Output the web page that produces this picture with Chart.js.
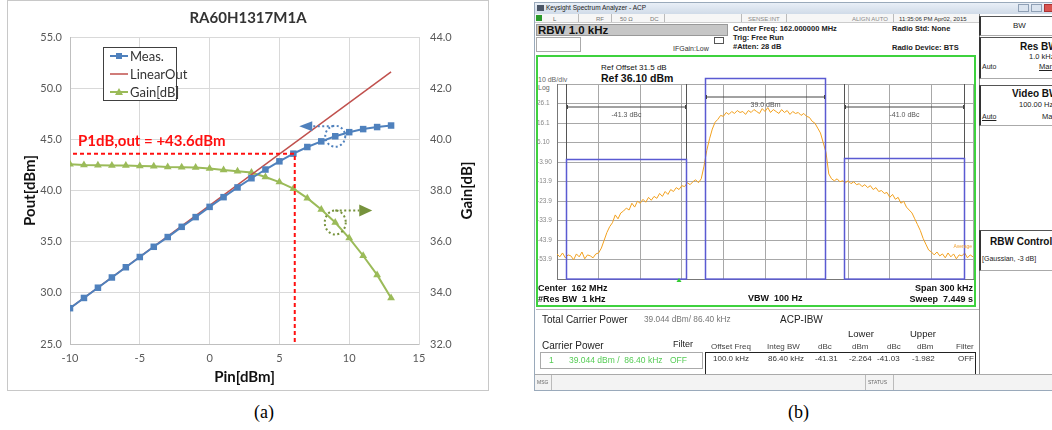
<!DOCTYPE html>
<html>
<head>
<meta charset="utf-8">
<script src="https://cdn.jsdelivr.net/npm/chart.js@4.4.1/dist/chart.umd.min.js"></script>
<style>
  body { margin: 0; background: #fff; width: 1052px; height: 430px; overflow: hidden; position: relative;
         font-family: "Liberation Sans", Arial, sans-serif; }
  .t { position: absolute; white-space: nowrap; line-height: 1; }
  .b { font-weight: bold; }
  .box { position: absolute; box-sizing: border-box; }
  #panelA { position: absolute; left: 7px; top: 0; width: 480px; height: 389px; border: 1px solid #c8c8c8; }
  #traceWrap { position: absolute; left: 537px; top: 74px; width: 437px; height: 211px; }
  .cap { position: absolute; top: 402px; font-family: "Liberation Serif", serif; font-size: 18px; }
  .side { position: absolute; left: 979px; width: 80px; box-sizing: border-box; background: #fff;
          border-left: 2px solid #333; border-top: 1px solid #555; border-bottom: 1px solid #aaa; }
</style>
</head>
<body>

<div id="panelA"><canvas id="paChart"></canvas></div>
<div class="cap" style="left:254px">(a)</div>
<div class="cap" style="left:788px">(b)</div>

<!-- (b) spectrum analyzer window -->
<div class="box" style="left:534px;top:2px;width:519px;height:389px;border:1px solid #9aaabb;background:#fff"></div>
<div class="box" style="left:535px;top:3px;width:517px;height:11px;background:linear-gradient(#e9eff7,#d0dbe8)"></div>
<div class="box" style="left:537px;top:5px;width:7px;height:6px;background:#4a5566"></div>
<div class="t" style="left:546px;top:5px;font-size:6.5px;color:#222">Keysight Spectrum Analyzer - ACP</div>
<div class="box" style="left:1018px;top:4px;width:11px;height:8px;background:#dbe4ef;border:1px solid #8fa0b5"></div>
<div class="box" style="left:1031px;top:4px;width:11px;height:8px;background:#dbe4ef;border:1px solid #8fa0b5"></div>
<div class="box" style="left:1044px;top:4px;width:12px;height:8px;background:#d9534f;border:1px solid #a33"></div>

<div class="box" style="left:535px;top:14px;width:444px;height:9px;background:#f6f6f6;border-bottom:1px solid #ccc"></div>
<div class="box" style="left:536px;top:15px;width:6px;height:6px;background:#2b9a2b"></div>
<div class="t" style="left:553px;top:16px;font-size:6px;color:#666">L</div>
<div class="t" style="left:596px;top:16px;font-size:6px;color:#777">RF</div>
<div class="t" style="left:620px;top:16px;font-size:6px;color:#777">50 Ω</div>
<div class="t" style="left:650px;top:16px;font-size:6px;color:#777">DC</div>
<div class="t" style="left:748px;top:16px;font-size:6px;color:#888">SENSE:INT</div>
<div class="t" style="left:852px;top:16px;font-size:6px;color:#888">ALIGN AUTO</div>
<div class="t" style="left:899px;top:16px;font-size:6px;color:#333">11:35:06 PM Apr02, 2015</div>
<div class="box" style="left:578px;top:14px;width:1px;height:8px;background:#bbb"></div>
<div class="box" style="left:611px;top:14px;width:1px;height:8px;background:#bbb"></div>
<div class="box" style="left:664px;top:14px;width:1px;height:8px;background:#bbb"></div>
<div class="box" style="left:741px;top:14px;width:1px;height:8px;background:#bbb"></div>
<div class="box" style="left:786px;top:14px;width:1px;height:8px;background:#bbb"></div>
<div class="box" style="left:893px;top:14px;width:1px;height:8px;background:#bbb"></div>

<div class="box" style="left:536px;top:24px;width:192px;height:12px;background:#c6c6c6;border:1px solid #999"></div>
<div class="t b" style="left:538px;top:25px;font-size:11.5px;color:#111">RBW 1.0 kHz</div>
<div class="box" style="left:536px;top:37px;width:45px;height:15px;border:1px solid #aaa;background:#fff"></div>
<div class="t" style="left:673px;top:45px;font-size:7px;color:#333">IFGain:Low</div>
<div class="box" style="left:714px;top:37px;width:10px;height:7px;border:1px solid #555;background:#fff"></div>
<div class="t b" style="left:733px;top:25px;font-size:7.5px;color:#222">Center Freq: 162.000000 MHz</div>
<div class="t b" style="left:733px;top:34px;font-size:7.5px;color:#222">Trig: Free Run</div>
<div class="t b" style="left:733px;top:43px;font-size:7.5px;color:#222">#Atten: 28 dB</div>
<div class="t b" style="left:892px;top:25px;font-size:7.5px;color:#222">Radio Std: None</div>
<div class="t b" style="left:892px;top:44px;font-size:7.5px;color:#222">Radio Device: BTS</div>

<div class="box" style="left:536px;top:55px;width:440px;height:252px;border:2px solid #3ed23e;background:#fff"></div>
<div class="t" style="left:601px;top:64px;font-size:8px;color:#111">Ref Offset 31.5 dB</div>
<div class="t b" style="left:601px;top:73px;font-size:10.5px;color:#111">Ref 36.10 dBm</div>
<div class="t" style="left:538px;top:76px;font-size:7px;color:#666">10 dB/div</div>
<div class="t" style="left:538px;top:84px;font-size:7px;color:#666">Log</div>
<div id="traceWrap"><canvas id="pbChart"></canvas></div>
<div class="t b" style="left:538px;top:284px;font-size:9px;color:#111">Center&nbsp; 162 MHz</div>
<div class="t b" style="left:538px;top:295px;font-size:9px;color:#111">#Res BW&nbsp; 1 kHz</div>
<div class="t b" style="left:748px;top:294px;font-size:9px;color:#111">VBW&nbsp; 100 Hz</div>
<div class="t b" style="right:79px;top:284px;font-size:9px;color:#111">Span 300 kHz</div>
<div class="t b" style="right:79px;top:295px;font-size:9px;color:#111">Sweep&nbsp; 7.449 s</div>

<div class="box" style="left:536px;top:309px;width:443px;height:65px;border-top:1px solid #bbb;background:#fff"></div>
<div class="t" style="left:542px;top:315px;font-size:10px;color:#222">Total Carrier Power</div>
<div class="t" style="left:644px;top:315px;font-size:8.3px;color:#777">39.044 dBm/ 86.40 kHz</div>
<div class="t" style="left:780px;top:315px;font-size:10px;color:#222">ACP-IBW</div>
<div class="t" style="left:848px;top:329px;font-size:9.5px;color:#222">Lower</div>
<div class="t" style="left:910px;top:329px;font-size:9.5px;color:#222">Upper</div>
<div class="t" style="left:542px;top:341px;font-size:10px;color:#222">Carrier Power</div>
<div class="t" style="left:673px;top:340px;font-size:9px;color:#222">Filter</div>
<div class="t" style="left:711px;top:343px;font-size:8px;color:#444">Offset Freq</div>
<div class="t" style="left:767px;top:343px;font-size:8px;color:#444">Integ BW</div>
<div class="t" style="left:818px;top:343px;font-size:8px;color:#444">dBc</div>
<div class="t" style="left:852px;top:343px;font-size:8px;color:#444">dBm</div>
<div class="t" style="left:887px;top:343px;font-size:8px;color:#444">dBc</div>
<div class="t" style="left:917px;top:343px;font-size:8px;color:#444">dBm</div>
<div class="t" style="left:956px;top:343px;font-size:8px;color:#444">Filter</div>
<div class="box" style="left:540px;top:352px;width:163px;height:17px;border:1px solid #aaa"></div>
<div class="t" style="left:549px;top:356px;font-size:8.5px;color:#55cc55">1</div>
<div class="t" style="left:569px;top:356px;font-size:8.5px;color:#55cc55">39.044 dBm /&nbsp; 86.40 kHz</div>
<div class="t" style="left:670px;top:356px;font-size:8.5px;color:#55cc55">OFF</div>
<div class="box" style="left:705px;top:352px;width:271px;height:23px;border:1.5px solid #222;border-bottom:none"></div>
<div class="t" style="left:713px;top:355px;font-size:8px;color:#333">100.0 kHz</div>
<div class="t" style="left:768px;top:355px;font-size:8px;color:#333">86.40 kHz</div>
<div class="t" style="left:815px;top:355px;font-size:8px;color:#333">-41.31</div>
<div class="t" style="left:849px;top:355px;font-size:8px;color:#333">-2.264</div>
<div class="t" style="left:877px;top:355px;font-size:8px;color:#333">-41.03</div>
<div class="t" style="left:912px;top:355px;font-size:8px;color:#333">-1.982</div>
<div class="t" style="left:958px;top:355px;font-size:8px;color:#333">OFF</div>

<div class="box" style="left:535px;top:374px;width:517px;height:16px;background:#f3f3f3;border-top:1px solid #aaa"></div>
<div class="box" style="left:551px;top:375px;width:1px;height:15px;background:#bbb"></div>
<div class="box" style="left:865px;top:375px;width:1px;height:15px;background:#bbb"></div>
<div class="box" style="left:893px;top:375px;width:1px;height:15px;background:#bbb"></div>
<div class="t" style="left:537px;top:380px;font-size:5px;color:#666">MSG</div>
<div class="t" style="left:868px;top:380px;font-size:5px;color:#666">STATUS</div>

<div class="box" style="left:979px;top:14px;width:74px;height:360px;border-left:1px solid #888;background:#fff"></div>
<div class="side" style="top:16px;height:20px"></div>
<div class="t" style="left:1013px;top:22px;font-size:8px;color:#222">BW</div>
<div class="side" style="top:37px;height:42px"></div>
<div class="t b" style="left:1020px;top:42px;font-size:10px;color:#111">Res BW</div>
<div class="t" style="left:1029px;top:53px;font-size:7.5px;color:#222">1.0 kHz</div>
<div class="t" style="left:982px;top:63px;font-size:7px;color:#222">Auto</div>
<div class="t" style="left:1039px;top:63px;font-size:7.5px;color:#222;text-decoration:underline">Man</div>
<div class="side" style="top:85px;height:41px"></div>
<div class="t b" style="left:1012px;top:89px;font-size:10px;color:#111">Video BW</div>
<div class="t" style="left:1019px;top:101px;font-size:7.5px;color:#222">100.00 Hz</div>
<div class="t" style="left:982px;top:113px;font-size:7px;color:#222;text-decoration:underline">Auto</div>
<div class="t" style="left:1042px;top:113px;font-size:7.5px;color:#222">Man</div>
<div class="side" style="top:230px;height:41px"></div>
<div class="t b" style="left:990px;top:237px;font-size:10px;color:#111">RBW Control</div>
<div class="t" style="left:982px;top:255px;font-size:7px;color:#222">[Gaussian, -3 dB]</div>

<script>
// ---------- (a) RA60H1317M1A : Pout / Gain vs Pin ----------
const pinDbm = [-10, -9, -8, -7, -6, -5, -4, -3, -2, -1, 0, 1, 2, 3, 4, 5, 6, 7, 8, 9, 10, 11, 12, 13];
const measPoutDbm = [28.5, 29.5, 30.5, 31.5, 32.5, 33.5, 34.5, 35.45, 36.45, 37.4, 38.4, 39.35,
                     40.3, 41.2, 42.05, 42.85, 43.6, 44.25, 44.8, 45.3, 45.7, 46.0, 46.2, 46.35];
const gainDb = [39.03, 39.0, 38.99, 38.98, 38.98, 38.96, 38.95, 38.92, 38.91, 38.9, 38.86, 38.8,
                38.75, 38.7, 38.53, 38.33, 38.07, 37.7, 37.26, 36.75, 36.14, 35.45, 34.7, 33.8];
const linearPinDbm = [-10, 13];
const linearOutDbm = [28.5, 51.6];
const p1dbOutDbm = 43.6;
const p1dbPinDbm = 6.1;

// ---------- (b) ACP spectrum trace ----------
const sweepStartKHz = -150;   // center 162 MHz, span 300 kHz
const sweepStepKHz = 2;
const traceDbm = [
  -51, -52.5, -50.5, -53, -51.5, -52, -54, -51, -52.5, -50,
  -53.5, -51.5, -52, -53, -51, -50.5, -48, -44, -40, -37,
  -35, -31, -33, -30, -29, -27.5, -28.5, -25, -27, -24,
  -25, -23, -24.5, -22, -23.5, -21.5, -22.5, -20, -21.5, -19,
  -20.5, -18, -19, -17, -18, -16, -16.5, -14.5, -15.5, -14,
  -13, -14.5, -12.5, -6, 2, 8, 13, 16.5, 18, 20,
  19.5, 21.5, 20.5, 22, 21, 22.5, 21.5, 22, 20.5, 22.5,
  21.5, 23, 22, 21, 23.5, 22, 24, 21.5, 23, 22,
  21, 23, 21.5, 22.5, 20.5, 22, 21, 21.5, 20, 21,
  19.5, 19, 17, 16, 13.5, 11, 6, 1, -10, -12.5,
  -13.5, -12.5, -14, -13.5, -14.5, -13.5, -15, -14, -15.5, -15,
  -16.5, -15.5, -17, -16, -18, -17, -19, -18.5, -20, -19.5,
  -22, -20.5, -23, -22, -25, -24, -27, -28.5, -30, -33,
  -36, -39, -43, -46, -49, -50, -51.5, -50, -52, -51,
  -53, -50.5, -52.5, -51, -53.5, -51.5, -52, -50.5, -53, -51.5,
  -52.5
];
const gridLevels = [-63.9, -53.9, -43.9, -33.9, -23.9, -13.9, -3.9, 6.1, 16.1, 26.1, 36.1];
const gridLabels = ['', '-53.9', '-43.9', '-33.9', '-23.9', '-13.9', '-3.90', '6.10', '16.1', '26.1', ''];
const acpOffsetKHz = [-100, 0, 100];
const acpIntegBwKHz = 86.4;
const acpPowerDbm = [-2.264, 39.044, -1.982];
const acpLabels = ['-41.3 dBc', '39.0 dBm', '-41.0 dBc'];

const BLUE = '#4f81bd', RED = '#c0504d', GREEN = '#9bbb59';
const FONT = 'Lato, "Open Sans", sans-serif';

function marker(ctx, style, x, y, color) {
  ctx.fillStyle = color;
  ctx.beginPath();
  if (style === 'rect') {
    ctx.rect(x - 3, y - 3, 6, 6);
  } else {
    ctx.moveTo(x, y - 4); ctx.lineTo(x + 4, y + 3); ctx.lineTo(x - 4, y + 3); ctx.closePath();
  }
  ctx.fill();
}

const paExtras = {
  id: 'paExtras',
  afterDatasetsDraw(chart) {
    const { ctx, chartArea: a } = chart;
    const xs = chart.scales.x, ys = chart.scales.y, ys1 = chart.scales.y1;
    ctx.save();

    // P1dB dashed guides
    const yP = ys.getPixelForValue(p1dbOutDbm), xP = xs.getPixelForValue(p1dbPinDbm);
    ctx.strokeStyle = '#ff1010';
    ctx.lineWidth = 2;
    ctx.setLineDash([4, 3]);
    ctx.beginPath();
    ctx.moveTo(a.left + 3, yP); ctx.lineTo(xP, yP); ctx.lineTo(xP, a.bottom);
    ctx.stroke();
    ctx.setLineDash([]);
    ctx.fillStyle = '#ff1010';
    ctx.font = 'bold 15px ' + FONT;
    ctx.textBaseline = 'middle';
    ctx.fillText('P1dB,out = +43.6dBm', a.left + 8, yP - 13);

    // axis pointers: Meas -> left axis, Gain -> right axis
    const iMark = pinDbm.indexOf(9);
    let cx = xs.getPixelForValue(9), cy = ys.getPixelForValue(measPoutDbm[iMark]);
    ctx.lineWidth = 2;
    ctx.setLineDash([2, 2.5]);
    ctx.strokeStyle = BLUE;
    ctx.beginPath(); ctx.ellipse(cx, cy, 10, 10.5, 0, 0, Math.PI * 2); ctx.stroke();
    ctx.beginPath(); ctx.moveTo(cx - 22, cy - 10); ctx.lineTo(cx - 2, cy - 10); ctx.stroke();
    ctx.setLineDash([]);
    ctx.fillStyle = BLUE;
    ctx.beginPath();
    ctx.moveTo(cx - 36, cy - 10); ctx.lineTo(cx - 23, cy - 15); ctx.lineTo(cx - 23, cy - 5); ctx.closePath();
    ctx.fill();

    cx = xs.getPixelForValue(9); cy = ys1.getPixelForValue(gainDb[iMark]);
    ctx.strokeStyle = '#76923c';
    ctx.setLineDash([2, 2.5]);
    ctx.beginPath(); ctx.ellipse(cx, cy, 10.5, 12, 0, 0, Math.PI * 2); ctx.stroke();
    ctx.beginPath(); ctx.moveTo(cx, cy - 12); ctx.lineTo(cx + 24, cy - 12); ctx.stroke();
    ctx.setLineDash([]);
    ctx.fillStyle = '#76923c';
    ctx.beginPath();
    ctx.moveTo(cx + 37, cy - 12); ctx.lineTo(cx + 24, cy - 18); ctx.lineTo(cx + 24, cy - 6); ctx.closePath();
    ctx.fill();

    // legend box inside plot
    const lx = a.left + 33, ly = a.top + 10;
    ctx.fillStyle = '#fff';
    ctx.fillRect(lx, ly, 73, 53);
    ctx.strokeStyle = '#404040';
    ctx.lineWidth = 1;
    ctx.strokeRect(lx + 0.5, ly + 0.5, 73, 53);
    const items = [['Meas.', BLUE, 'rect'], ['LinearOut', RED, null], ['Gain[dB]', GREEN, 'tri']];
    ctx.font = '13px ' + FONT;
    items.forEach((it, i) => {
      const y = ly + 9 + i * 18;
      ctx.strokeStyle = it[1];
      ctx.lineWidth = it[2] ? 2 : 1.5;
      ctx.beginPath(); ctx.moveTo(lx + 7, y); ctx.lineTo(lx + 25, y); ctx.stroke();
      if (it[2]) marker(ctx, it[2], lx + 16, y, it[1]);
      ctx.fillStyle = '#333';
      ctx.fillText(it[0], lx + 27, y + 1);
    });

    // right axis title, reading bottom-to-top
    ctx.save();
    ctx.translate(chart.width - 21, (a.top + a.bottom) / 2);
    ctx.rotate(-Math.PI / 2);
    ctx.font = 'bold 15px ' + FONT;
    ctx.fillStyle = '#111';
    ctx.textAlign = 'center';
    ctx.fillText('Gain[dB]', 0, 0);
    ctx.restore();
    ctx.restore();
  }
};

const tickFont = { family: FONT, size: 11 };
new Chart(document.getElementById('paChart'), {
  type: 'line',
  data: {
    datasets: [
      { label: 'Meas.', data: pinDbm.map((x, i) => ({ x, y: measPoutDbm[i] })), yAxisID: 'y',
        borderColor: BLUE, backgroundColor: BLUE, borderWidth: 2, pointStyle: 'rect',
        pointRadius: 4.6, pointBorderWidth: 0, order: 0 },
      { label: 'LinearOut', data: linearPinDbm.map((x, i) => ({ x, y: linearOutDbm[i] })), yAxisID: 'y',
        borderColor: RED, borderWidth: 1.5, pointRadius: 0, order: 1 },
      { label: 'Gain[dB]', data: pinDbm.map((x, i) => ({ x, y: gainDb[i] })), yAxisID: 'y1',
        borderColor: GREEN, backgroundColor: GREEN, borderWidth: 2, pointStyle: 'triangle',
        pointRadius: 4.5, pointBorderWidth: 0, order: 2 }
    ]
  },
  options: {
    animation: false,
    responsive: true,
    maintainAspectRatio: false,
    plugins: {
      legend: { display: false },
      tooltip: { enabled: false },
      title: { display: true, text: 'RA60H1317M1A', color: '#333',
               font: { family: FONT, size: 15, weight: 'bold' }, padding: { top: 8, bottom: 10 } }
    },
    scales: {
      x: {
        type: 'linear', min: -10, max: 15,
        ticks: { stepSize: 5, color: '#595959', font: tickFont, padding: 8 },
        grid: { color: '#d9d9d9', drawTicks: false },
        border: { color: '#bfbfbf' },
        title: { display: true, text: 'Pin[dBm]', color: '#111',
                 font: { family: FONT, size: 15, weight: 'bold' }, padding: { top: 0, bottom: 4 } },
        afterFit: s => { s.height = 46; }
      },
      y: {
        position: 'left', min: 25, max: 55,
        ticks: { stepSize: 5, color: '#595959', font: tickFont, padding: 8, callback: v => v.toFixed(1) },
        grid: { color: '#d9d9d9', drawTicks: false },
        border: { color: '#bfbfbf' },
        title: { display: true, text: 'Pout[dBm]', color: '#111',
                 font: { family: FONT, size: 15, weight: 'bold' }, padding: { top: 13, bottom: 0 } },
        afterFit: s => { s.width = 62; }
      },
      y1: {
        position: 'right', min: 32, max: 44,
        ticks: { stepSize: 2, color: '#595959', font: tickFont, padding: 11, callback: v => v.toFixed(1) },
        grid: { drawOnChartArea: false, drawTicks: false },
        border: { color: '#d9d9d9' },
        afterFit: s => { s.width = 69; }
      }
    }
  },
  plugins: [paExtras]
});

// ---------- (b) chart ----------
const pbExtras = {
  id: 'pbExtras',
  afterDatasetsDraw(chart) {
    const { ctx, chartArea: a } = chart;
    const xs = chart.scales.x, ys = chart.scales.y;
    ctx.save();
    ctx.font = '7px "Liberation Sans", Arial, sans-serif';
    ctx.textAlign = 'center';
    ctx.textBaseline = 'middle';
    acpOffsetKHz.forEach((off, i) => {
      const x0 = Math.round(xs.getPixelForValue(off - acpIntegBwKHz / 2)) + 0.5;
      const x1 = Math.round(xs.getPixelForValue(off + acpIntegBwKHz / 2)) + 0.5;
      const yTop = Math.round(ys.getPixelForValue(acpPowerDbm[i])) + 0.5;
      // extension lines from graticule top
      if (yTop > a.top) {
        ctx.strokeStyle = '#555';
        ctx.lineWidth = 1;
        ctx.beginPath();
        ctx.moveTo(x0, a.top); ctx.lineTo(x0, yTop);
        ctx.moveTo(x1, a.top); ctx.lineTo(x1, yTop);
        ctx.stroke();
      }
      // integration bandwidth box
      ctx.strokeStyle = '#5a5ad2';
      ctx.lineWidth = 1.5;
      ctx.strokeRect(x0, yTop, x1 - x0, a.bottom - yTop);
      // measurement bracket
      const yb = a.top + (off === 0 ? 13 : 23);
      ctx.strokeStyle = '#444';
      ctx.lineWidth = 1;
      ctx.beginPath();
      ctx.moveTo(x0 + 1, yb); ctx.lineTo(x1 - 1, yb);
      ctx.moveTo(x0 + 1, yb - 2); ctx.lineTo(x0 + 1, yb + 2);
      ctx.moveTo(x1 - 1, yb - 2); ctx.lineTo(x1 - 1, yb + 2);
      ctx.stroke();
      ctx.fillStyle = '#555';
      ctx.fillText(acpLabels[i], (x0 + x1) / 2, yb + 8);
    });
    ctx.fillStyle = '#f0a030';
    ctx.font = '5px "Liberation Sans", Arial, sans-serif';
    ctx.textAlign = 'right';
    ctx.fillText('Average', a.right - 1, a.top + 163);
    ctx.fillStyle = '#33cc33';
    ctx.beginPath();
    const mx = xs.getPixelForValue(-62);
    ctx.moveTo(mx, a.bottom - 1); ctx.lineTo(mx + 2.5, a.bottom + 3); ctx.lineTo(mx - 2.5, a.bottom + 3); ctx.closePath();
    ctx.fill();
    ctx.restore();
  }
};

new Chart(document.getElementById('pbChart'), {
  type: 'line',
  data: {
    datasets: [{
      data: traceDbm.map((v, i) => ({ x: sweepStartKHz + i * sweepStepKHz, y: v })),
      borderColor: '#f2a11f', borderWidth: 1, pointRadius: 0, tension: 0
    }]
  },
  options: {
    animation: false,
    responsive: true,
    maintainAspectRatio: false,
    layout: { padding: { top: 10, right: 1, bottom: 4, left: 0 } },
    plugins: { legend: { display: false }, tooltip: { enabled: false } },
    scales: {
      x: {
        type: 'linear', min: -150, max: 150,
        ticks: { display: false, stepSize: 30 },
        grid: { color: '#a8a8a8', drawTicks: false },
        border: { color: '#777' },
        afterFit: s => { s.height = 0; }
      },
      y: {
        min: -63.9, max: 36.1,
        afterBuildTicks: s => { s.ticks = gridLevels.map(v => ({ value: v })); },
        ticks: { color: '#888', font: { family: '"Liberation Sans", Arial, sans-serif', size: 6.5 },
                 crossAlign: 'far', padding: 2, callback: (v, i) => gridLabels[i] },
        grid: { color: '#a8a8a8', drawTicks: false },
        border: { color: '#777' },
        afterFit: s => { s.width = 20; }
      }
    }
  },
  plugins: [pbExtras]
});
</script>
</body>
</html>
